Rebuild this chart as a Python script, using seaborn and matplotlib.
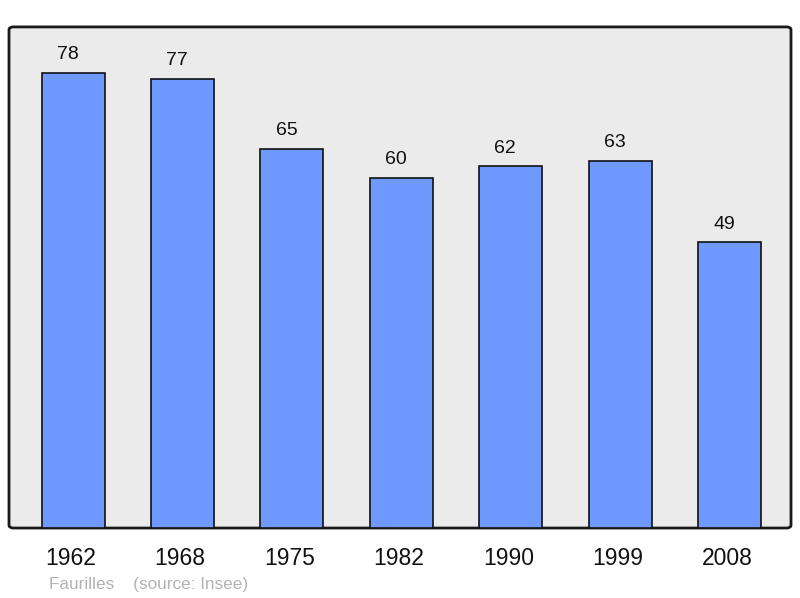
import matplotlib
matplotlib.use("Agg")
import matplotlib.pyplot as plt
import matplotlib.transforms as mtransforms
import seaborn as sns
import pandas as pd
from matplotlib.patches import FancyBboxPatch

years = ["1962", "1968", "1975", "1982", "1990", "1999", "2008"]
population = [78, 77, 65, 60, 62, 63, 49]

df = pd.DataFrame({"year": years, "pop": population})

sns.set_style("white")
plt.rcParams["font.family"] = ["Liberation Sans", "DejaVu Sans"]

fig = plt.figure(figsize=(8, 5.98), dpi=100)
ax = fig.add_axes([0.01125, 0.117, 0.9775, 0.838])
ax.set_facecolor("none")

# rounded frame like the original
frame = FancyBboxPatch((0, 0), 1, 1, boxstyle="round,pad=0,rounding_size=0.006",
                       transform=ax.transAxes, facecolor="#ebebeb",
                       edgecolor="#1a1a1a", linewidth=2, zorder=0, clip_on=False)
ax.add_patch(frame)

sns.barplot(data=df, x="year", y="pop", color="#7099ff", saturation=1,
            width=0.576, edgecolor="#111111", linewidth=1.2, ax=ax, zorder=2)

# value labels sit a little left of the bar centre in the original
for i, v in enumerate(population):
    ax.text(i - 0.05, v + 3.1, str(v), ha="center", va="center", fontsize=14, color="#111111")

ax.set_xlim(-0.585, 6.56)
ax.set_ylim(0, 85.9)
for s in ax.spines.values():
    s.set_visible(False)
ax.set_yticks([])
ax.set_xlabel("")
ax.set_ylabel("")
ax.tick_params(axis="x", length=0, labelsize=16.5, pad=14, colors="#111111")

# nudge year labels slightly left
shift = mtransforms.ScaledTranslation(-0.025, 0, fig.dpi_scale_trans)
for lab in ax.get_xticklabels():
    lab.set_transform(lab.get_transform() + shift)

fig.text(49 / 800, 1 - 585 / 598, "Faurilles    (source: Insee)", fontsize=12.3,
         color="#b3b3b3", ha="left", va="center")

fig.savefig("out.png", dpi=100)
